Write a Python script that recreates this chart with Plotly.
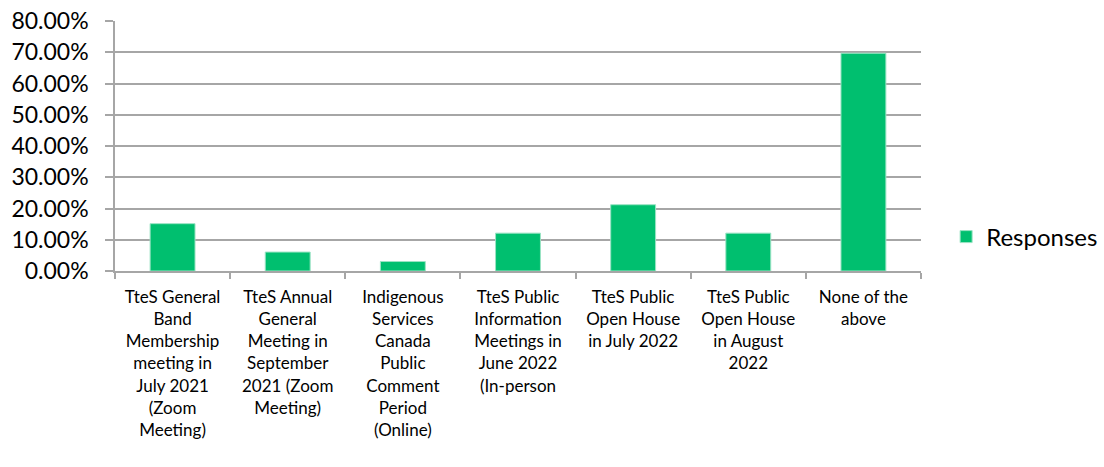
import plotly.graph_objects as go

categories = [
    "TteS General<br>Band<br>Membership<br>meeting in<br>July 2021<br>(Zoom<br>Meeting)",
    "TteS Annual<br>General<br>Meeting in<br>September<br>2021 (Zoom<br>Meeting)",
    "Indigenous<br>Services<br>Canada<br>Public<br>Comment<br>Period<br>(Online)",
    "TteS Public<br>Information<br>Meetings in<br>June 2022<br>(In-person",
    "TteS Public<br>Open House<br>in July 2022",
    "TteS Public<br>Open House<br>in August<br>2022",
    "None of the<br>above",
]
responses = [0.1515, 0.0606, 0.0303, 0.1212, 0.2121, 0.1212, 0.6970]

y_ticks = [0, 0.1, 0.2, 0.3, 0.4, 0.5, 0.6, 0.7, 0.8]

GREEN = "#00BF6F"
GRID = "#A6A6A6"
FONT = "Lato"

fig = go.Figure()

fig.add_trace(
    go.Bar(
        x=categories,
        y=responses,
        name="Responses",
        marker=dict(color=GREEN, line=dict(color="#9BE3C4", width=1)),
        width=0.39,
    )
)

fig.update_layout(
    width=1104,
    height=467,
    paper_bgcolor="white",
    plot_bgcolor="white",
    margin=dict(l=115, r=183, t=21, b=196),
    font=dict(family=FONT, color="black"),
    showlegend=True,
    legend=dict(
        xref="container",
        yref="container",
        x=0.857,
        y=0.4925,
        xanchor="left",
        yanchor="middle",
        font=dict(size=24, family=FONT),
    ),
    xaxis=dict(
        type="category",
        automargin=False,
        tickson="boundaries",
        ticks="outside",
        ticklen=6,
        tickcolor=GRID,
        tickwidth=1.5,
        ticklabelstandoff=10,
        showline=True,
        linecolor=GRID,
        linewidth=1.5,
        showgrid=False,
        tickangle=0,
        tickfont=dict(size=17, family=FONT),
    ),
    yaxis=dict(
        range=[0, 0.8001],
        automargin=False,
        tickvals=y_ticks,
        tickformat=".2%",
        ticklabeloverflow="allow",
        ticks="outside",
        ticklen=8,
        tickcolor=GRID,
        tickwidth=1.5,
        ticklabelstandoff=12,
        showline=True,
        linecolor=GRID,
        linewidth=1.5,
        gridcolor=GRID,
        gridwidth=1.5,
        zeroline=False,
        tickfont=dict(size=23, family=FONT),
    ),
)

# drop the default 8px body margin so the figure fills the window
fig.write_html(
    "out.html",
    config={"displayModeBar": False},
    post_script="document.body.style.margin = '0';",
)
